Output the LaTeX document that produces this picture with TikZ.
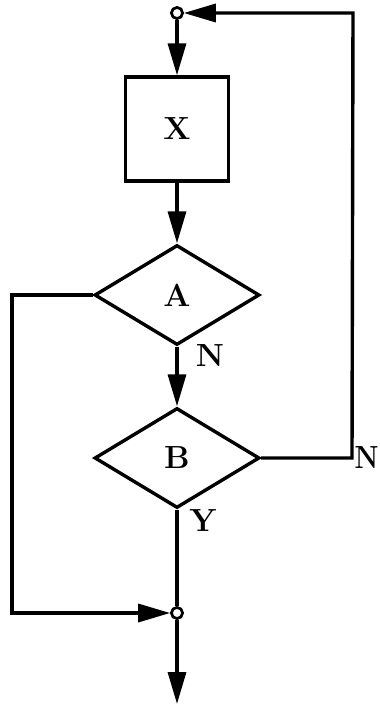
\documentclass[tikz,border=0pt]{standalone}
\usepackage{fontspec}
\setmainfont{Latin Modern Roman}
\usetikzlibrary{arrows.meta,shapes.geometric}
\newcommand\bigtxt{\fontsize{32pt}{36pt}\selectfont\bfseries}
\begin{document}
\begin{tikzpicture}[x=1pt,y=-1pt,
  line width=3.4pt,
  lbl/.style={font=\bigtxt, inner sep=0pt},
  boxnode/.style={draw, rectangle, minimum width=103pt, minimum height=104pt, inner sep=0pt, font=\bigtxt},
  dia/.style={draw, diamond, minimum width=165pt, minimum height=100pt, inner sep=0pt, font=\bigtxt},
  junc/.style={draw, circle, line width=2.6pt, minimum size=11pt, inner sep=0pt, fill=white},
  arr/.style={-{Triangle[length=32pt,width=18pt]}}]
\useasboundingbox (0,0) rectangle (380,704);
\node[boxnode] (X) at (177,129) {X};
\node[dia] (A) at (177,295) {A};
\node[dia] (B) at (177,458) {B};
\coordinate (tr) at (353,13);
\coordinate (br) at (352,458);
\coordinate (al) at (12,295);
\coordinate (bl) at (12,613);
\coordinate (endp) at (177,704);
\node[junc] (ct) at (177,13) {};
\node[junc] (cb) at (177,613) {};
\draw[arr] (ct) -- (X.north);
\draw[arr] (X.south) -- (A.north);
\draw[arr] (A.south) -- (B.north);
\draw[arr] (B.east) -- (br) -- (tr) -- (ct);
\draw[arr] (A.west) -- (al) -- (bl) -- (cb);
\draw (B.south) -- (cb);
\draw[arr] (cb) -- (endp);
\node[junc] at (ct) {};
\node[junc] at (cb) {};
\node[lbl] (nA) at (210,356) {N};
\node[lbl, anchor=east, xscale=0.85] (nB) at (380,458) {N};
\node[lbl] (yB) at (203,521) {Y};
\end{tikzpicture}
\end{document}
